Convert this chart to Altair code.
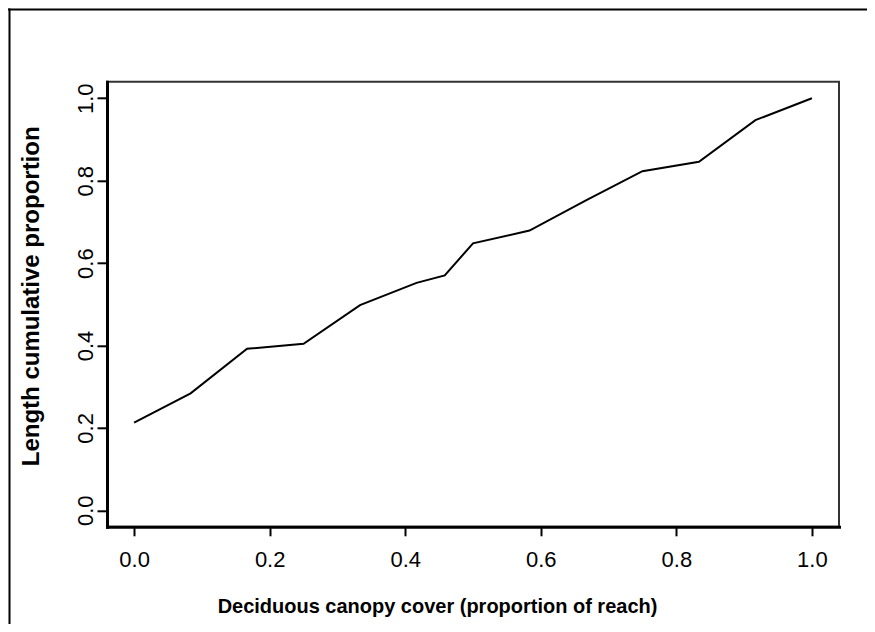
import altair as alt
import pandas as pd

# Data
cover = [0.0, 1/12, 2/12, 3/12, 4/12, 5/12, 11/24, 6/12, 7/12, 8/12, 9/12, 10/12, 11/12, 1.0]
cum_prop = [0.213, 0.284, 0.392, 0.404, 0.498, 0.552, 0.570, 0.648, 0.679, 0.752, 0.823, 0.846, 0.947, 1.0]
x_ticks = [0.0, 0.2, 0.4, 0.6, 0.8, 1.0]
y_ticks = [0.0, 0.2, 0.4, 0.6, 0.8, 1.0]
x_title = "Deciduous canopy cover (proportion of reach)"
y_title = "Length cumulative proportion"

df = pd.DataFrame({"cover": cover, "prop": cum_prop})

W, H = 732, 445
FONT = "Liberation Sans"

line = alt.Chart(df).mark_line(color="black", strokeWidth=2).encode(
    x=alt.X(
        "cover:Q",
        scale=alt.Scale(domain=[-0.04, 1.04], nice=False, zero=False),
        axis=alt.Axis(
            values=x_ticks, format=".1f", title=x_title, grid=False,
            domainColor="black", domainWidth=3, domainCap="square",
            tickColor="black", tickWidth=2, tickSize=9,
            labelFont=FONT, labelFontSize=22, labelColor="black",
            labelBaseline="alphabetic", labelPadding=30.5,
            labelFlush=False, labelOverlap=False,
            titleFont=FONT, titleFontSize=20, titleFontWeight="bold", titleColor="black",
            titleX=330, titleY=86, titleAlign="center", titleBaseline="alphabetic",
        ),
    ),
    y=alt.Y(
        "prop:Q",
        scale=alt.Scale(domain=[-0.04, 1.04], nice=False, zero=False),
        axis=alt.Axis(
            values=y_ticks, format=".1f", title=y_title, grid=False,
            domainColor="black", domainWidth=3, domainCap="square",
            tickColor="black", tickWidth=2, tickSize=10,
            labelFont=FONT, labelFontSize=22, labelColor="black",
            labelAngle=270, labelAlign="center", labelBaseline="alphabetic",
            labelPadding=5, labelFlush=False, labelOverlap=False,
            titleFont=FONT, titleFontSize=24, titleFontWeight="bold", titleColor="black",
            titleAngle=270, titleX=-68.5, titleY=214, titleAlign="center",
            titleBaseline="alphabetic",
        ),
    ),
)

deco = pd.DataFrame({"a": [0]})
frame_top = alt.Chart(deco).mark_rule(color="black", strokeWidth=2).encode(
    x=alt.value(-99), x2=alt.value(W + 300), y=alt.value(-72.3),
)
frame_left = alt.Chart(deco).mark_rule(color="black", strokeWidth=2).encode(
    x=alt.value(-97.5), y=alt.value(-73.3), y2=alt.value(H + 300),
)

chart = alt.layer(line, frame_top, frame_left).properties(
    width=W, height=H,
    autosize=alt.AutoSizeParams(type="none"),
    padding={"left": 99, "top": 73.8, "right": 28, "bottom": 97},
).configure(
    background="white", font=FONT
).configure_view(
    stroke="#333333", strokeWidth=2
)

chart.save("out.html", embed_options={"renderer": "svg", "actions": False})
